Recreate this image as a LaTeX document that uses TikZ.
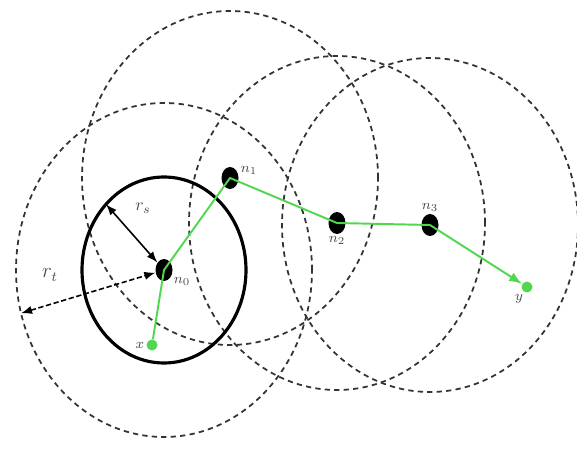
\documentclass[tikz,border=0pt]{standalone}
\usetikzlibrary{arrows.meta,shapes.geometric}
\definecolor{hopgreen}{RGB}{80,215,80}
\tikzset{
	rangeline/.style={draw=black!80, line width=1pt, dash pattern=on 3pt off 2.4pt},
	sensor/.style={ellipse, fill=black, inner sep=0pt, minimum width=0.34cm, minimum height=0.44cm},
	endpt/.style={circle, fill=hopgreen, inner sep=0pt, minimum size=0.22cm},
	hop/.style={hopgreen, line width=1.1pt},
	lbl/.style={font=\footnotesize, text=black!70, inner sep=1pt},
	dimarrow/.style={{Latex[length=2.2mm]}-{Latex[length=2.2mm]}, line width=0.9pt},
}
\begin{document}
\begin{tikzpicture}
	\useasboundingbox (0,0) rectangle (11.54,9);
	
	\node[sensor, label={[lbl]-35:$n_0$}] (n0) at (3.28, 3.60) {};
	\node[sensor, label={[lbl]10:$n_1$}] (n1) at (4.60, 5.44) {};
	\node[sensor, label={[lbl]below:$n_2$}] (n2) at (6.74, 4.54) {};
	\node[sensor, label={[lbl]above:$n_3$}] (n3) at (8.60, 4.50) {};
	\node[endpt, label={[lbl]left:$x$}] (x) at (3.04, 2.10) {};
	\node[endpt, label={[lbl]-110:$y$}] (y) at (10.54, 3.26) {};
	
	\draw[rangeline] (n0.center) ellipse (2.96cm and 3.34cm);
	\draw[rangeline] (n1.center) ellipse (2.96cm and 3.34cm);
	\draw[rangeline] (n2.center) ellipse (2.96cm and 3.34cm);
	\draw[rangeline] (n3.center) ellipse (2.96cm and 3.34cm);
	\draw[line width=1.8pt] (n0.center) ellipse (1.64cm and 1.86cm);
	
	\coordinate (rsend) at ([shift={(135:1.64cm and 1.86cm)}]n0.center);
	\coordinate (rtend) at ([shift={(195:2.96cm and 3.34cm)}]n0.center);
	\draw[dimarrow] (rsend) -- (n0);
	\draw[dimarrow, dash pattern=on 3pt off 1.5pt] (rtend) -- (n0);
	\node[font=\normalsize, text=black!70] (rs) at (2.86, 4.84) {$r_s$};
	\node[font=\large, text=black!70] (rt) at (1.00, 3.50) {$r_t$};
	
	\draw[hop] (x) -- (n0.center) -- (n1.center) -- (n2.center) -- (n3.center);
	\draw[hop, -{Latex[length=2.6mm]}] (n3.center) -- (y);
\end{tikzpicture}
\end{document}
